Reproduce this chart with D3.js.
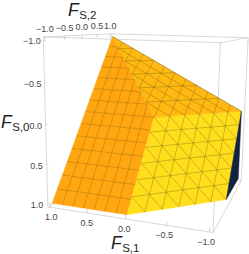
<!DOCTYPE html>
<html>
<head>
<meta charset="utf-8">
<script src="https://cdn.jsdelivr.net/npm/d3@7"></script>
<style>
  html, body { margin: 0; background: #fff; }
  text { font-family: "Liberation Sans", Arial, sans-serif; }
</style>
</head>
<body>
<svg id="chart" width="249" height="254"></svg>
<script>
// Vertices are [F_S,1, F_S,2, F_S,0]
const orangeFace = [[1, 1, -1], [1, -1, 1], [0, -1, 1], [0, 0, 0]];
const yellowFace = [[0, -1, 1], [-1, 0, 1], [-1, 1, 0], [0, 0, 0]];
const amberFace = [[1, 1, -1], [0, 0, 0], [-1, 1, 0]];
const darkFace = [[-1, 1, 0], [-1, 1, 1], [-1, 0, 1]];
const faceColors = ["#ffa610", "#ffdf1c", "#ffb911", "#14233f"];
const orangeLevels = [-6 / 7, -5 / 7, -4 / 7, -3 / 7, -2 / 7, -1 / 7, 0, 1 / 7, 2 / 7, 3 / 7, 4 / 7, 5 / 7, 6 / 7];
const meshLevels = [-5 / 6, -4 / 6, -3 / 6, -2 / 6, -1 / 6, 0, 1 / 6, 2 / 6, 3 / 6, 4 / 6, 5 / 6];
const tickValues = [-1, -0.5, 0, 0.5, 1];
const boxEdge = 1.04; // plot range is padded a little past the data

const CONFIG = {
  tickSize: 9,
  titleSize: 17.5,
  subSize: 11.5,
  boxColor: "#d4d4d4",
  tickColor: "#444"
};

// Camera fitted to the box corners of the picture
const camX = [-64.4547, 43.6682, 3.2959, 154.0062];
const camY = [-0.3979, 3.175, 77.8889, 117.2826];
const camW = [0.0481, 0.1339, 0.0283, 1];

const f1 = d3.scaleLinear().domain([-1, 1]).range([-1, 1]);
const f2 = d3.scaleLinear().domain([-1, 1]).range([-1, 1]);
const f0 = d3.scaleLinear().domain([-1, 1]).range([-1, 1]);

function project(d) {
  const v = [f1(d[0]), f2(d[1]), f0(d[2]), 1];
  const w = d3.sum(v, (c, i) => c * camW[i]);
  return [d3.sum(v, (c, i) => c * camX[i]) / w, d3.sum(v, (c, i) => c * camY[i]) / w];
}

const line = d3.line().x(d => project(d)[0]).y(d => project(d)[1]);

// Cut a flat polygon with the plane coordinate k = level
function meshSegment(face, k, level) {
  const hits = [];
  face.forEach((a, i) => {
    const b = face[(i + 1) % face.length];
    if ((a[k] - level) * (b[k] - level) < 0 || (a[k] === level && b[k] !== level)) {
      const t = (level - a[k]) / (b[k] - a[k]);
      hits.push(a.map((c, j) => c + t * (b[j] - c)));
    }
  });
  return hits.length === 2 ? hits : null;
}

const svg = d3.select("#chart");

// Box
const s = boxEdge;
const boxEdges = [
  [[s, -s, -s], [-s, -s, -s]], [[s, -s, -s], [s, s, -s]], [[s, s, -s], [-s, s, -s]], [[-s, -s, -s], [-s, s, -s]],
  [[s, -s, -s], [s, -s, s]], [[-s, -s, -s], [-s, -s, s]], [[-s, s, -s], [-s, s, s]], [[s, s, -s], [s, s, s]],
  [[s, -s, s], [-s, -s, s]], [[-s, -s, s], [-s, s, s]], [[s, -s, s], [s, s, s]], [[s, s, s], [-s, s, s]]
];
svg.append("g")
  .selectAll("path")
  .data(boxEdges)
  .join("path")
  .attr("d", line)
  .attr("fill", "none")
  .attr("stroke", CONFIG.boxColor)
  .attr("stroke-width", 0.9);

// Tick marks and labels for the three framed axes
const axes = [
  { at: v => [s, v, -s], mark: v => [s, v, -s + 0.05], dx: () => 0, dy: () => -8, anchor: "middle" },
  { at: v => [s, -s, v], mark: v => [s, -s + 0.05, v], dx: v => -3.5 - v, dy: () => 1, anchor: "end" },
  { at: v => [v, -s, s], mark: v => [v, -s, s - 0.05], dx: v => -1.5 + 2 * v, dy: () => 10, anchor: "middle" }
];
axes.forEach(axis => {
  svg.append("g")
    .selectAll("path")
    .data(tickValues)
    .join("path")
    .attr("d", v => line([axis.at(v), axis.mark(v)]))
    .attr("stroke", "#bbb")
    .attr("stroke-width", 0.6);
  svg.append("g")
    .selectAll("text")
    .data(tickValues)
    .join("text")
    .attr("x", v => project(axis.at(v))[0] + axis.dx(v))
    .attr("y", v => project(axis.at(v))[1] + axis.dy(v))
    .attr("dominant-baseline", "central")
    .attr("text-anchor", axis.anchor)
    .attr("font-size", CONFIG.tickSize)
    .attr("fill", CONFIG.tickColor)
    .text(v => d3.format(".1f")(v).replace("-", "\u2212"));
});

// Surface
const faces = [orangeFace, yellowFace, amberFace, darkFace];
svg.append("g")
  .selectAll("path")
  .data(faces)
  .join("path")
  .attr("d", d => line(d) + "Z")
  .attr("fill", (d, i) => faceColors[i])
  .attr("stroke", (d, i) => faceColors[i])
  .attr("stroke-width", 0.5)
  .attr("stroke-linejoin", "round");

// The orange face has F_S,2 = -F_S,0, so two of its families coincide
const meshes = [
  { face: orangeFace, coords: [0, 2], levels: orangeLevels, opacity: 0.42 },
  { face: yellowFace, coords: [0, 1, 2], levels: meshLevels, opacity: 0.5 },
  { face: amberFace, coords: [0, 1, 2], levels: meshLevels, opacity: 0.5 }
];
const segments = [];
meshes.forEach(mesh => {
  mesh.coords.forEach(k => {
    mesh.levels.forEach(level => {
      const seg = meshSegment(mesh.face, k, level);
      if (seg) segments.push({ seg, opacity: mesh.opacity });
    });
  });
});
svg.append("g")
  .selectAll("path")
  .data(segments)
  .join("path")
  .attr("d", d => line(d.seg))
  .attr("fill", "none")
  .attr("stroke", "#5a4a10")
  .attr("stroke-opacity", d => d.opacity)
  .attr("stroke-width", 0.6);

// Edge shading along the top of the surface
svg.append("path")
  .attr("d", line([amberFace[0], amberFace[2]]))
  .attr("stroke", "#8a7a50")
  .attr("stroke-width", 0.6);

// Axis titles
const titles = [
  { sub: "S,2", x: 68, y: 16 },
  { sub: "S,0", x: 1, y: 128 },
  { sub: "S,1", x: 111, y: 249 }
];
const title = svg.append("g")
  .selectAll("text")
  .data(titles)
  .join("text")
  .attr("x", d => d.x)
  .attr("y", d => d.y)
  .attr("fill", "#222");
title.append("tspan")
  .attr("font-size", CONFIG.titleSize)
  .attr("font-style", "italic")
  .text("F");
title.append("tspan")
  .attr("font-size", CONFIG.subSize)
  .attr("dy", 3)
  .attr("dx", 0.5)
  .text(d => d.sub);
</script>
</body>
</html>
